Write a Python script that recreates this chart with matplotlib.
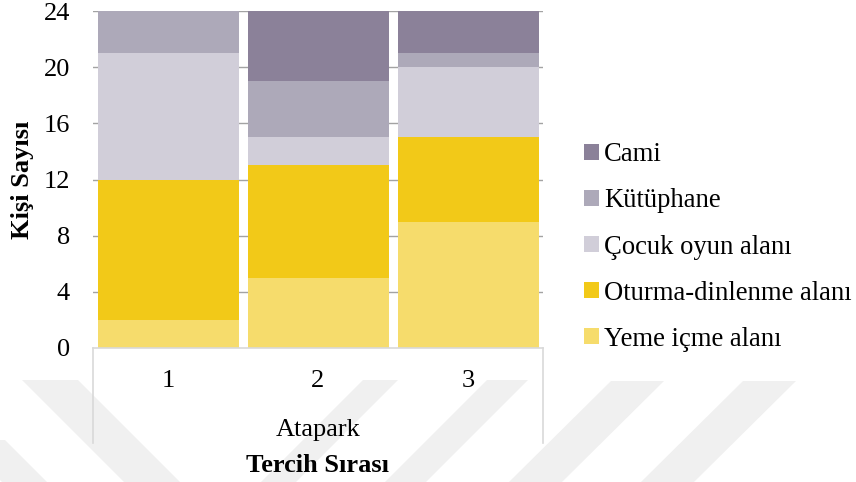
import matplotlib
matplotlib.use("Agg")
import matplotlib.pyplot as plt
from matplotlib.patches import Polygon
import numpy as np

# Data
categories = ["1", "2", "3"]
group_label = "Atapark"
series_names = ["Yeme içme alanı", "Oturma-dinlenme alanı", "Çocuk oyun alanı",
                "Kütüphane", "Cami"]
yeme_icme = [2, 5, 9]
oturma_dinlenme = [10, 8, 6]
cocuk_oyun = [9, 2, 5]
kutuphane = [3, 4, 1]
cami = [0, 5, 3]
series_values = [yeme_icme, oturma_dinlenme, cocuk_oyun, kutuphane, cami]
colors = ["#F6DC6C", "#F2C918", "#D1CED9", "#ADA9B9", "#8B8199"]
y_ticks = [0, 4, 8, 12, 16, 20, 24]

plt.rcParams["font.family"] = ["Liberation Serif", "DejaVu Serif"]
FS = 19

W, H = 856, 482
fig = plt.figure(figsize=(W / 100, H / 100), dpi=100)

# faint diagonal background bands
bg = fig.add_axes([0, 0, 1, 1], zorder=0)
bg.set_xlim(0, W)
bg.set_ylim(H, 0)
bg.axis("off")
band_color = "#f0f0f0"
bands = [
    [(22, 380), (78, 380), (180, 482), (124, 482)],
    [(-40, 440), (5, 440), (47, 482), (2, 482)],
    [(363, 380), (398, 380), (296, 482), (261, 482)],
    [(487, 380), (528, 380), (426, 482), (385, 482)],
    [(611, 381), (664, 381), (562, 482), (509, 482)],
    [(743, 381), (796, 381), (694, 482), (641, 482)],
]
for b in bands:
    bg.add_patch(Polygon(b, closed=True, facecolor=band_color, edgecolor="none"))

# main plot area
x0, x1, ytop, ybot = 93, 543, 11, 348
ax = fig.add_axes([x0 / W, 1 - ybot / H, (x1 - x0) / W, (ybot - ytop) / H], zorder=1)
ax.patch.set_alpha(0)

x = np.arange(len(categories))
bottom = np.zeros(len(categories))
handles = []
for name, vals, c in zip(series_names, series_values, colors):
    h = ax.bar(x, vals, width=0.94, bottom=bottom, color=c, label=name, zorder=2)
    handles.append(h)
    bottom += np.array(vals)

ax.set_xlim(-0.5, len(categories) - 0.5)
ax.set_ylim(0, 24)
ax.set_yticks(y_ticks)
ax.set_yticklabels([str(t) for t in y_ticks], fontsize=FS)
for t in y_ticks[1:]:
    ax.axhline(t, color="#a3a3a3", linewidth=1.0, zorder=1)

ax.set_xticks(x)
ax.set_xticklabels(categories, fontsize=FS)
ax.tick_params(axis="y", length=0, pad=16.5)
ax.tick_params(axis="x", length=0, pad=16)

for s in ["top", "right", "left"]:
    ax.spines[s].set_visible(False)
ax.spines["bottom"].set_color("#d9d9d9")
ax.spines["bottom"].set_linewidth(1.2)

# category box lines
box_bottom = (ybot - 443) / (ybot - ytop)
for xv in (0, 1):
    ax.plot([xv, xv], [0, box_bottom], transform=ax.transAxes, color="#d9d9d9",
            linewidth=1.2, clip_on=False)

ax.text(0.5, (ybot - 436) / (ybot - ytop), group_label, transform=ax.transAxes,
        ha="center", va="baseline", fontsize=FS)
ax.text(0.5, (ybot - 472) / (ybot - ytop), "Tercih Sırası", transform=ax.transAxes,
        ha="center", va="baseline", fontsize=FS, fontweight="bold")

ax.set_ylabel("Kişi Sayısı", fontsize=FS, fontweight="bold")
ax.yaxis.label.set_verticalalignment("center")
ax.yaxis.set_label_coords((22 - x0) / (x1 - x0), 0.5)

leg = fig.legend(handles[::-1], series_names[::-1], loc="center left",
                 bbox_to_anchor=(584 / W, 1 - 247 / H), frameon=False,
                 fontsize=19.2, handlelength=0.55, handleheight=0.55,
                 handletextpad=0.2, labelspacing=0.79, borderaxespad=0,
                 borderpad=0)

fig.savefig("out.png", dpi=100)
